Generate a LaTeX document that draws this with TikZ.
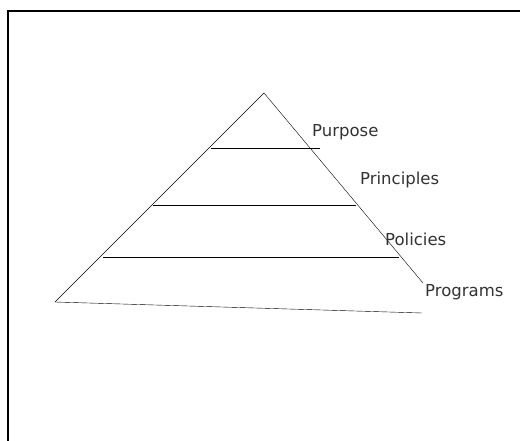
\documentclass[tikz,border=0pt]{standalone}
\usepackage{fontspec}
\setmainfont{DejaVu Sans}
\usepackage{tikz}

\begin{document}
\begin{tikzpicture}
	[x=1pt, y=-1pt,
	level/.style={line width=0.9pt},
	tag/.style={anchor=west, inner sep=0pt, font=\fontsize{16.5}{18}\selectfont, text=black!80}]
	\useasboundingbox[fill=white] (0,0) rectangle (520,441);
	\draw[line width=2pt] (8,441) -- (8,11) -- (520,11);
	\coordinate (apex) at (264,93);
	\coordinate (baseL) at (55,302);
	\coordinate (baseR) at (422,313);
	\coordinate (sideR) at (423,283);
	\draw (baseL) -- (apex) -- (sideR);
	\draw (baseL) -- (baseR);
	\coordinate (a1) at (211,148); \coordinate (b1) at (320,148);
	\coordinate (a2) at (153,205); \coordinate (b2) at (356,205);
	\coordinate (a3) at (103,257); \coordinate (b3) at (399,257);
	\draw[level] (a1) -- (b1);
	\draw[level] (a2) -- (b2);
	\draw[level] (a3) -- (b3);
	\node[tag] (purpose) at (312,132) {Purpose};
	\node[tag] (principles) at (360,180) {Principles};
	\node[tag] (policies) at (385,239) {Policies};
	\node[tag] (programs) at (425,292) {Programs};
\end{tikzpicture}
\end{document}
